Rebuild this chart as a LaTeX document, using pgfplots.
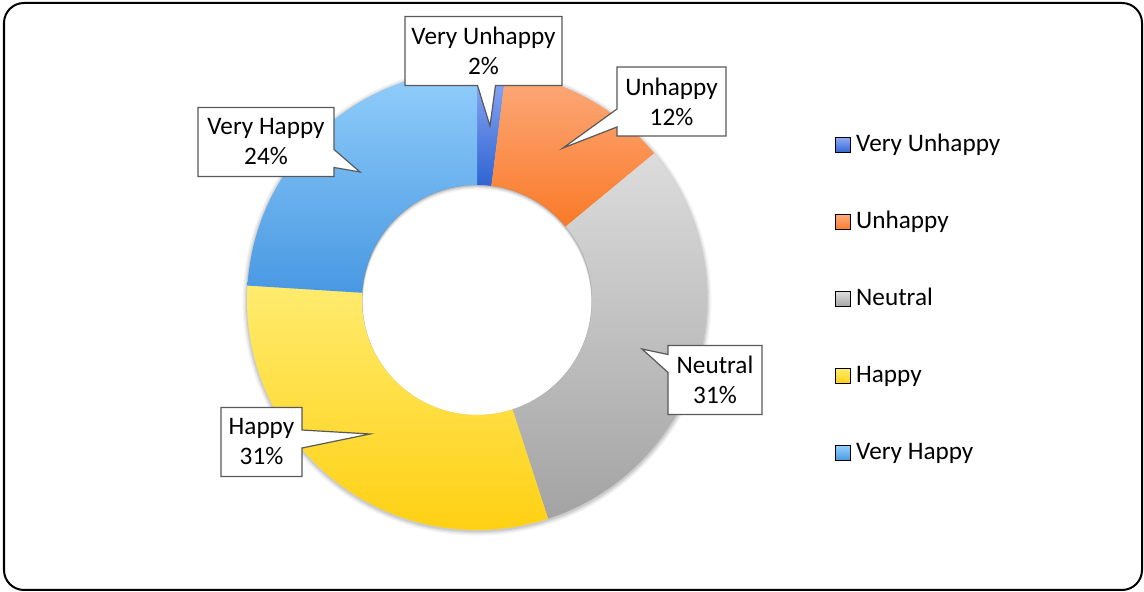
\documentclass[border=0pt]{standalone}
\usepackage{pgfplots}
\usepackage{pgfplotstable}
\pgfplotsset{compat=1.18}
\usepackage{fontspec}
\setmainfont{Carlito}
\usetikzlibrary{calc,shapes.callouts}

\definecolor{vuT}{HTML}{8FAAF5}\definecolor{vuB}{HTML}{2F64D2}
\definecolor{uT}{HTML}{FCAA7C}\definecolor{uB}{HTML}{FA7A28}
\definecolor{nT}{HTML}{DCDCDC}\definecolor{nB}{HTML}{A3A3A3}
\definecolor{hT}{HTML}{FFEB6E}\definecolor{hB}{HTML}{FFCF0E}
\definecolor{vhT}{HTML}{92CEFB}\definecolor{vhB}{HTML}{4898E2}
\definecolor{calloutline}{HTML}{595959}

\pgfplotstableread{
label value
VeryUnhappy 2
Unhappy 12
Neutral 31
Happy 31
VeryHappy 24
}\donutdata

\newcommand\slice[4]{%
  \path[top color=#3,bottom color=#4]
    ($(axis cs:477,292)+(#1:115pt)$) arc[start angle=#1,end angle=#2,radius=115pt]
    -- ($(axis cs:477,292)+(#2:57.5pt)$) arc[start angle=#2,end angle=#1,radius=57.5pt] -- cycle;}

\begin{document}
\begin{tikzpicture}[font=\fontsize{12.6}{15}\selectfont,
  mycallout/.style={rectangle callout, draw=calloutline, line width=0.6pt, fill=white,
    align=center, inner sep=2pt, minimum height=34.5pt, callout pointer width=9pt}]
\pgfplotstablegetelem{0}{value}\of\donutdata \pgfmathsetmacro\vA{\pgfplotsretval}
\pgfplotstablegetelem{1}{value}\of\donutdata \pgfmathsetmacro\vB{\pgfplotsretval}
\pgfplotstablegetelem{2}{value}\of\donutdata \pgfmathsetmacro\vC{\pgfplotsretval}
\pgfplotstablegetelem{3}{value}\of\donutdata \pgfmathsetmacro\vD{\pgfplotsretval}
\pgfplotstablegetelem{4}{value}\of\donutdata \pgfmathsetmacro\vE{\pgfplotsretval}
\pgfmathsetmacro\aA{90}
\pgfmathsetmacro\aB{\aA-3.6*\vA}
\pgfmathsetmacro\aC{\aB-3.6*\vB}
\pgfmathsetmacro\aD{\aC-3.6*\vC}
\pgfmathsetmacro\aE{\aD-3.6*\vD}
\pgfmathsetmacro\aF{\aE-3.6*\vE}
\begin{axis}[scale only axis, width=572pt, height=296pt,
  xmin=0, xmax=1144, ymin=0, ymax=592, hide axis, clip=false,
  legend cell align=left,
  legend style={at={(axis cs:835,461)}, anchor=north west, draw=none, fill=none,
    inner sep=0pt, row sep=24.5pt,
    nodes={inner ysep=1pt, inner xsep=2.5pt, text height=9pt, text depth=3pt, anchor=west}}]
\path (axis cs:0,0) rectangle (axis cs:1144,592);
\draw[line width=1pt, rounded corners=10pt] (axis cs:4,2) rectangle (axis cs:1142,589);

% soft outer shadow of the ring
\pgfplotsextra{
  \foreach \k/\op in {2.2/0.04,1.6/0.05,1.0/0.06,0.5/0.07}{
    \fill[black, opacity=\op, even odd rule]
      ($(axis cs:477,292)+(0,-0.6pt)$) circle[radius=115pt+\k pt]
      (axis cs:477,292) circle[radius=57.5pt];
  }
}

\slice{\aA}{\aB}{vuT}{vuB}
\slice{\aB}{\aC}{uT}{uB}
\slice{\aC}{\aD}{nT}{nB}
\slice{\aD}{\aE}{hT}{hB}
\slice{\aE}{\aF}{vhT}{vhB}

% inner shadow in the hole
\pgfplotsextra{
  \begin{scope}
    \clip (axis cs:477,292) circle[radius=57.5pt];
    \foreach \k/\op in {0.4/0.10,0.9/0.07,1.4/0.05,2.0/0.03}{
      \fill[black, opacity=\op, even odd rule]
        (axis cs:477,292) circle[radius=60pt]
        ($(axis cs:477,292)+(0,-\k pt)$) circle[radius=57.5pt-0.3pt];
    }
  \end{scope}
}

\addlegendimage{legend image code/.code={\path[top color=vuT,bottom color=vuB] (0pt,-3.75pt) rectangle (7.5pt,3.75pt);}}
\addlegendentry{Very Unhappy}
\addlegendimage{legend image code/.code={\path[top color=uT,bottom color=uB] (0pt,-3.75pt) rectangle (7.5pt,3.75pt);}}
\addlegendentry{Unhappy}
\addlegendimage{legend image code/.code={\path[top color=nT,bottom color=nB] (0pt,-3.75pt) rectangle (7.5pt,3.75pt);}}
\addlegendentry{Neutral}
\addlegendimage{legend image code/.code={\path[top color=hT,bottom color=hB] (0pt,-3.75pt) rectangle (7.5pt,3.75pt);}}
\addlegendentry{Happy}
\addlegendimage{legend image code/.code={\path[top color=vhT,bottom color=vhB] (0pt,-3.75pt) rectangle (7.5pt,3.75pt);}}
\addlegendentry{Very Happy}

\node[mycallout, minimum width=78.5pt, callout absolute pointer={(axis cs:490,466)}] at (axis cs:483.5,541) {Very Unhappy\\2\%};
\node[mycallout, minimum width=54.5pt, callout absolute pointer={(axis cs:563,444)}] at (axis cs:671.5,490.5) {Unhappy\\12\%};
\node[mycallout, minimum width=68pt, callout absolute pointer={(axis cs:360,420)}] at (axis cs:266,450) {Very Happy\\24\%};
\node[mycallout, minimum width=47pt, callout absolute pointer={(axis cs:642,243)}] at (axis cs:715,212) {Neutral\\31\%};
\node[mycallout, minimum width=40.5pt, callout absolute pointer={(axis cs:370,158)}] at (axis cs:261.5,150) {Happy\\31\%};
\end{axis}
\end{tikzpicture}
\end{document}
